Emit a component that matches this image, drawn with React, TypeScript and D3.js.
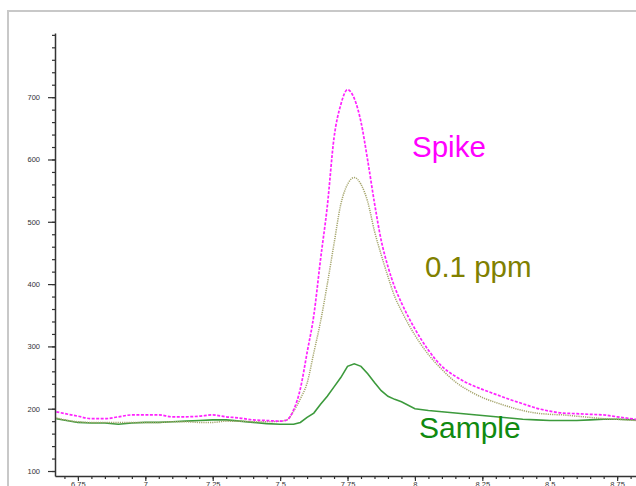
import React, { useEffect, useRef } from "react";
import * as d3 from "d3";

// chemical shift (x) shared by all three traces
const shifts = [
  6.67, 6.75, 6.8, 6.85, 6.9, 6.95, 7.0, 7.05, 7.1, 7.15, 7.2, 7.25, 7.3, 7.35,
  7.4, 7.45, 7.5, 7.525, 7.55, 7.575, 7.6, 7.625, 7.65, 7.675, 7.7, 7.725,
  7.75, 7.775, 7.8, 7.825, 7.85, 7.875, 7.9, 7.925, 7.95, 8.0, 8.05, 8.1,
  8.15, 8.2, 8.25, 8.3, 8.35, 8.4, 8.45, 8.5, 8.55, 8.6, 8.65, 8.7, 8.75, 8.82,
];

const spike = [
  195, 188, 184, 184, 187, 190, 190, 190, 187, 187, 188, 190, 187, 185,
  182, 181, 180, 182, 198, 232, 290, 350, 440, 525, 635, 688,
  712, 698, 660, 598, 530, 470, 428, 395, 370, 328, 294, 268,
  252, 240, 231, 223, 215, 208, 201, 196, 193, 192, 191, 190, 187, 183,
];

const ppm01 = [
  185, 179, 178, 178, 178, 178, 178, 178, 179, 179, 178, 178, 180, 180,
  179, 179, 180, 182, 196, 216, 241, 290, 340, 400, 465, 528,
  560, 571, 560, 532, 485, 447, 412, 380, 357, 318, 287, 263,
  243, 229, 218, 210, 203, 197, 193, 191, 190, 188, 186, 184, 183, 181,
];

const sample = [
  184, 178, 177, 177, 175, 177, 178, 178, 179, 180, 181, 182, 182, 180,
  178, 176, 175, 175, 175, 178, 186, 193, 207, 220, 235, 250,
  268, 272, 268, 256, 242, 229, 220, 215, 211, 200, 197, 195,
  193, 191, 189, 187, 185, 183, 182, 181, 181, 181, 182, 183, 183, 182,
];

const xTickLabels = [6.75, 7, 7.25, 7.5, 7.75, 8, 8.25, 8.5, 8.75];
const yTickLabels = [100, 200, 300, 400, 500, 600, 700];

const W = 636;
const H = 486;
const axisFont = "'Liberation Sans', Arial, sans-serif";

const App = () => {
  const svgRef = useRef(null);

  const x = d3.scaleLinear().domain([6.665, 8.82]).range([55, 636]);
  const y = d3.scaleLinear().domain([92, 803]).range([476, 33]);

  const makeLine = (vals: number[], curve: any) =>
    d3
      .line<number>()
      .x((_, i) => x(shifts[i]))
      .y((d) => y(d))
      .curve(curve)(vals);

  useEffect(() => {
    const svg = d3.select(svgRef.current);
    svg.selectAll(".axis").remove();

    // minor ticks
    const yMinor = svg
      .append("g")
      .attr("class", "axis")
      .attr("transform", "translate(55,0)")
      .call(
        d3
          .axisLeft(y)
          .tickValues(d3.range(100, 801, 20))
          .tickSize(3)
          .tickSizeOuter(0)
          .tickFormat(() => "")
      );
    yMinor.select(".domain").remove();

    const xMinor = svg
      .append("g")
      .attr("class", "axis")
      .attr("transform", "translate(0,476)")
      .call(
        d3
          .axisBottom(x)
          .tickValues(d3.range(6.7, 8.81, 0.05))
          .tickSize(3)
          .tickSizeOuter(0)
          .tickFormat(() => "")
      );
    xMinor.select(".domain").remove();

    // major ticks + labels
    const yAxis = svg
      .append("g")
      .attr("class", "axis")
      .attr("transform", "translate(55,0)")
      .call(
        d3
          .axisLeft(y)
          .tickValues(yTickLabels)
          .tickSize(7)
          .tickSizeOuter(0)
          .tickPadding(8)
          .tickFormat((d) => String(d))
      );

    const xAxis = svg
      .append("g")
      .attr("class", "axis")
      .attr("transform", "translate(0,476)")
      .call(
        d3
          .axisBottom(x)
          .tickValues(xTickLabels)
          .tickSize(5)
          .tickSizeOuter(0)
          .tickPadding(1)
          .tickFormat((d) => String(d))
      );

    [yAxis, xAxis, yMinor, xMinor].forEach((g) => {
      g.selectAll(".domain").attr("stroke", "#333").attr("stroke-width", 1.5);
      g.selectAll(".tick line").attr("stroke", "#333").attr("stroke-width", 1.2);
      g.selectAll("text")
        .style("fill", "#333")
        .style("font-size", "7.5px")
        .style("font-family", axisFont);
    });
  }, []);

  return (
    <svg
      ref={svgRef}
      width={W}
      height={H}
      style={{ position: "absolute", left: 0, top: 0, background: "#fff" }}
    >
      {/* frame */}
      <path d={`M8,${H + 5}V11H${W + 5}`} fill="none" stroke="#c8c8c8" strokeWidth={2} />

      <path
        d={makeLine(sample, d3.curveLinear) || ""}
        fill="none"
        stroke="#3c9a3c"
        strokeWidth={1.6}
      />
      <path
        d={makeLine(ppm01, d3.curveMonotoneX) || ""}
        fill="none"
        stroke="#a5a56c"
        strokeWidth={1.5}
        strokeDasharray="1.2,1"
      />
      <path
        d={makeLine(spike, d3.curveMonotoneX) || ""}
        fill="none"
        stroke="#ff22ff"
        strokeWidth={1.7}
        strokeDasharray="3,1.5"
      />

      <text x={412} y={157} fill="#ff00ff" fontSize={29.5} fontFamily={axisFont}>
        Spike
      </text>
      <text x={425} y={277} fill="#808000" fontSize={29.5} fontFamily={axisFont}>
        0.1 ppm
      </text>
      <text x={419} y={438} fill="#108a10" fontSize={30} fontFamily={axisFont}>
        Sample
      </text>
    </svg>
  );
};

export default App;
